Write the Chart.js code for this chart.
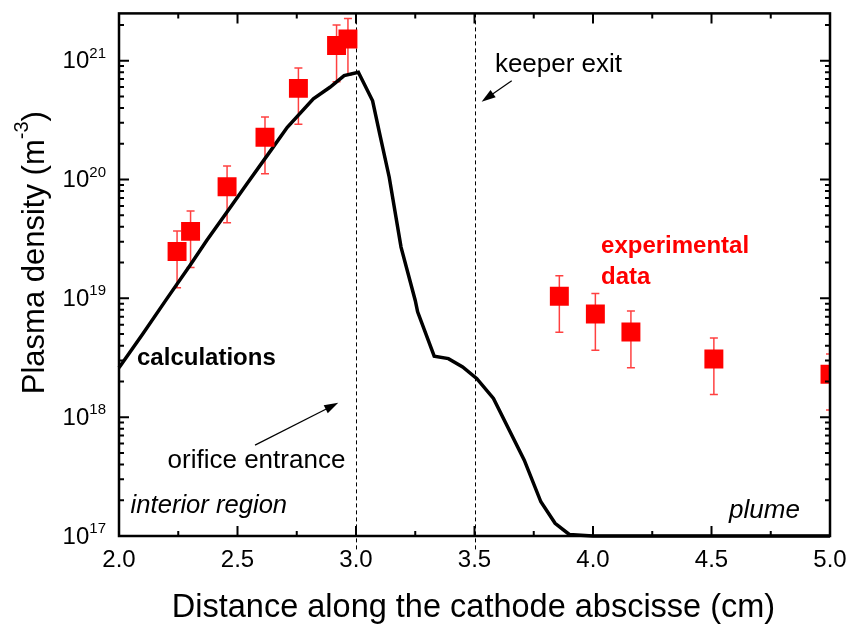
<!DOCTYPE html>
<html>
<head>
<meta charset="utf-8">
<script src="https://cdn.jsdelivr.net/npm/chart.js@4.4.1/dist/chart.umd.min.js"></script>
<style>
  html, body { margin: 0; padding: 0; background: #fff; }
  #wrap { width: 856px; height: 627px; }
</style>
</head>
<body>
<div id="wrap"><canvas id="densityChart" width="856" height="627"></canvas></div>
<script>
// calculated plasma density along the cathode axis (cm, m^-3)
const calcX = [2.0, 2.1, 2.2, 2.3, 2.37, 2.47, 2.54, 2.64, 2.71, 2.82, 2.89, 2.95, 3.01,
               3.07, 3.10, 3.14, 3.19, 3.25, 3.26, 3.33, 3.39, 3.45, 3.51, 3.58, 3.71,
               3.78, 3.84, 3.90, 4.0, 5.0];
const calcY = [2.6e18, 5.0e18, 9.8e18, 1.9e19, 3.07e19, 5.85e19, 9.2e19, 1.75e20, 2.75e20,
               4.77e20, 5.97e20, 7.48e20, 7.98e20, 4.6e20, 2.42e20, 1.05e20, 2.7e19, 9.6e18,
               7.7e18, 3.26e18, 3.11e18, 2.65e18, 2.11e18, 1.44e18, 4.35e17, 1.94e17,
               1.28e17, 1.03e17, 1e17, 1e17];

// measured points with error bars
const expX  = [2.245, 2.302, 2.456, 2.616, 2.757, 2.918, 2.966, 3.858, 4.01, 4.16, 4.51, 5.0];
const expY  = [2.48e19, 3.66e19, 8.7e19, 2.27e20, 5.85e20, 1.34e21, 1.52e21, 1.04e19, 7.38e18, 5.21e18, 3.09e18, 2.3e18];
const expHi = [3.68e19, 5.42e19, 1.30e20, 3.36e20, 8.67e20, 2.0e21, 2.27e21, 1.55e19, 1.10e19, 7.82e18, 4.64e18, 3.4e18];
const expLo = [1.23e19, 1.82e19, 4.33e19, 1.12e20, 2.92e20, 6.66e20, 7.6e20, 5.18e18, 3.66e18, 2.6e18, 1.55e18, 1.15e18];

// axis ticks
const xMajor = [2.0, 2.5, 3.0, 3.5, 4.0, 4.5, 5.0];
const xMinor = [2.25, 2.75, 3.25, 3.75, 4.25, 4.75];
const yDecades = [17, 18, 19, 20, 21];
const yMinorMult = [2, 3, 4, 5, 6, 7, 8, 9];

// dashed markers: orifice entrance, keeper exit
const guideX = [3.0, 3.5];

const FONT = '"Liberation Sans", Arial, sans-serif';

// text notes, anchored in data coordinates
const notes = [
  { text: 'calculations', x: 2.076, y: 2.74e18, font: 'bold 24px ' + FONT, color: '#000' },
  { text: 'orifice entrance', x: 2.205, y: 3.73e17, font: '26px ' + FONT, color: '#000' },
  { text: 'interior region', x: 2.049, y: 1.55e17, font: 'italic 25.6px ' + FONT, color: '#000' },
  { text: 'plume', x: 4.574, y: 1.41e17, font: 'italic 26px ' + FONT, color: '#000' },
  { text: 'keeper exit', x: 3.586, y: 8.09e20, font: '26px ' + FONT, color: '#000' },
  { text: 'experimental', x: 4.034, y: 2.4e19, font: 'bold 24px ' + FONT, color: '#ff0000' },
  { text: 'data', x: 4.034, y: 1.33e19, font: 'bold 24px ' + FONT, color: '#ff0000' }
];
const arrows = [
  { x1: 2.574, y1: 5.82e17, x2: 2.925, y2: 1.32e18 },
  { x1: 3.657, y1: 6.79e20, x2: 3.530, y2: 4.52e20 }
];

function drawArrow(ctx, x1, y1, x2, y2) {
  const ang = Math.atan2(y2 - y1, x2 - x1);
  const len = 14, half = 4.5;
  ctx.beginPath();
  ctx.moveTo(x1, y1);
  ctx.lineTo(x2 - Math.cos(ang) * len * 0.8, y2 - Math.sin(ang) * len * 0.8);
  ctx.stroke();
  ctx.beginPath();
  ctx.moveTo(x2, y2);
  ctx.lineTo(x2 - Math.cos(ang) * len + Math.sin(ang) * half, y2 - Math.sin(ang) * len - Math.cos(ang) * half);
  ctx.lineTo(x2 - Math.cos(ang) * len - Math.sin(ang) * half, y2 - Math.sin(ang) * len + Math.cos(ang) * half);
  ctx.closePath();
  ctx.fill();
}

const framePlugin = {
  id: 'frame',
  beforeDatasetsDraw(chart) {
    const { ctx, chartArea: a, scales: { x, y } } = chart;
    ctx.save();
    // dashed guides
    ctx.strokeStyle = '#000';
    ctx.lineWidth = 1;
    ctx.setLineDash([4, 3]);
    guideX.forEach(v => {
      const px = Math.round(x.getPixelForValue(v)) + 0.5;
      ctx.beginPath();
      ctx.moveTo(px, a.top);
      ctx.lineTo(px, a.bottom + 14);
      ctx.stroke();
    });
    ctx.setLineDash([]);
    // error bars
    ctx.beginPath();
    ctx.rect(a.left, a.top, a.right - a.left, a.bottom - a.top);
    ctx.clip();
    ctx.strokeStyle = 'rgba(255,0,0,0.75)';
    ctx.lineWidth = 1.5;
    expX.forEach((v, i) => {
      const px = x.getPixelForValue(v);
      const hi = y.getPixelForValue(expHi[i]);
      const lo = y.getPixelForValue(expLo[i]);
      ctx.beginPath();
      ctx.moveTo(px, hi); ctx.lineTo(px, lo);
      ctx.moveTo(px - 4, hi); ctx.lineTo(px + 4, hi);
      ctx.moveTo(px - 4, lo); ctx.lineTo(px + 4, lo);
      ctx.stroke();
    });
    ctx.restore();
  },
  afterDatasetsDraw(chart) {
    const { ctx, chartArea: a, scales: { x, y } } = chart;
    ctx.save();
    ctx.strokeStyle = '#000';
    ctx.fillStyle = '#000';

    // inward ticks on all four sides
    ctx.lineWidth = 2;
    ctx.beginPath();
    xMajor.forEach(v => {
      const px = x.getPixelForValue(v);
      ctx.moveTo(px, a.bottom); ctx.lineTo(px, a.bottom - 10);
      ctx.moveTo(px, a.top); ctx.lineTo(px, a.top + 10);
    });
    xMinor.forEach(v => {
      const px = x.getPixelForValue(v);
      ctx.moveTo(px, a.bottom); ctx.lineTo(px, a.bottom - 5);
      ctx.moveTo(px, a.top); ctx.lineTo(px, a.top + 5);
    });
    yDecades.forEach(e => {
      const py = y.getPixelForValue(Math.pow(10, e));
      ctx.moveTo(a.left, py); ctx.lineTo(a.left + 10, py);
      ctx.moveTo(a.right, py); ctx.lineTo(a.right - 10, py);
      yMinorMult.forEach(m => {
        const val = m * Math.pow(10, e);
        if (val > y.max) return;
        const pm = y.getPixelForValue(val);
        ctx.moveTo(a.left, pm); ctx.lineTo(a.left + 5, pm);
        ctx.moveTo(a.right, pm); ctx.lineTo(a.right - 5, pm);
      });
    });
    ctx.stroke();

    // frame
    ctx.lineWidth = 2.5;
    ctx.strokeRect(a.left, a.top, a.right - a.left, a.bottom - a.top);

    // x tick labels
    ctx.font = '24px ' + FONT;
    ctx.textAlign = 'center';
    ctx.textBaseline = 'middle';
    xMajor.forEach(v => {
      ctx.fillText(v.toFixed(1), x.getPixelForValue(v), a.bottom + 24);
    });

    // y tick labels 10^n
    yDecades.forEach(e => {
      const py = y.getPixelForValue(Math.pow(10, e));
      const right = a.left - 13;
      ctx.font = '15px ' + FONT;
      const sw = ctx.measureText(String(e)).width;
      ctx.textAlign = 'right';
      ctx.textBaseline = 'alphabetic';
      ctx.fillText(String(e), right, py - 3);
      ctx.font = '24px ' + FONT;
      ctx.textBaseline = 'middle';
      ctx.fillText('10', right - sw, py + 1);
    });

    // x axis title
    ctx.font = '32.5px ' + FONT;
    ctx.textAlign = 'center';
    ctx.textBaseline = 'alphabetic';
    ctx.fillText('Distance along the cathode abscisse (cm)', (a.left + a.right) / 2 - 1, 617);

    // y axis title with superscript
    const main = 'Plasma density (m';
    ctx.font = '31px ' + FONT;
    const w1 = ctx.measureText(main).width;
    const w3 = ctx.measureText(')').width;
    ctx.font = '20px ' + FONT;
    const w2 = ctx.measureText('-3').width;
    const total = w1 + w2 + w3;
    ctx.translate(44, (a.top + a.bottom) / 2 - 22);
    ctx.rotate(-Math.PI / 2);
    ctx.textAlign = 'left';
    ctx.font = '31px ' + FONT;
    ctx.fillText(main, -total / 2, 0);
    ctx.font = '20px ' + FONT;
    ctx.fillText('-3', -total / 2 + w1, -16);
    ctx.font = '31px ' + FONT;
    ctx.fillText(')', -total / 2 + w1 + w2, 0);
    ctx.setTransform(1, 0, 0, 1, 0, 0);

    // notes and arrows
    ctx.textAlign = 'left';
    ctx.textBaseline = 'alphabetic';
    notes.forEach(n => {
      ctx.font = n.font;
      ctx.fillStyle = n.color;
      ctx.fillText(n.text, x.getPixelForValue(n.x), y.getPixelForValue(n.y));
    });
    ctx.fillStyle = '#000';
    ctx.lineWidth = 1.2;
    arrows.forEach(r => {
      drawArrow(ctx, x.getPixelForValue(r.x1), y.getPixelForValue(r.y1),
                x.getPixelForValue(r.x2), y.getPixelForValue(r.y2));
    });
    ctx.restore();
  }
};

const ctx = document.getElementById('densityChart').getContext('2d');
new Chart(ctx, {
  type: 'scatter',
  data: {
    datasets: [
      {
        label: 'experimental data',
        data: expX.map((v, i) => ({ x: v, y: expY[i] })),
        pointStyle: 'rect',
        pointRadius: 13.4,
        backgroundColor: '#ff0000',
        borderColor: '#ff0000',
        borderWidth: 0,
        order: 0
      },
      {
        type: 'line',
        label: 'calculations',
        data: calcX.map((v, i) => ({ x: v, y: calcY[i] })),
        borderColor: '#000',
        borderWidth: 3.5,
        pointRadius: 0,
        tension: 0,
        fill: false,
        clip: 4,
        order: 1
      }
    ]
  },
  options: {
    responsive: false,
    animation: false,
    devicePixelRatio: 1,
    layout: { padding: { left: 119, right: 26, top: 13, bottom: 91 } },
    plugins: { legend: { display: false }, tooltip: { enabled: false } },
    scales: {
      x: { type: 'linear', min: 2, max: 5, display: false },
      y: { type: 'logarithmic', min: 1e17, max: 2.5e21, display: false }
    }
  },
  plugins: [framePlugin]
});
</script>
</body>
</html>
